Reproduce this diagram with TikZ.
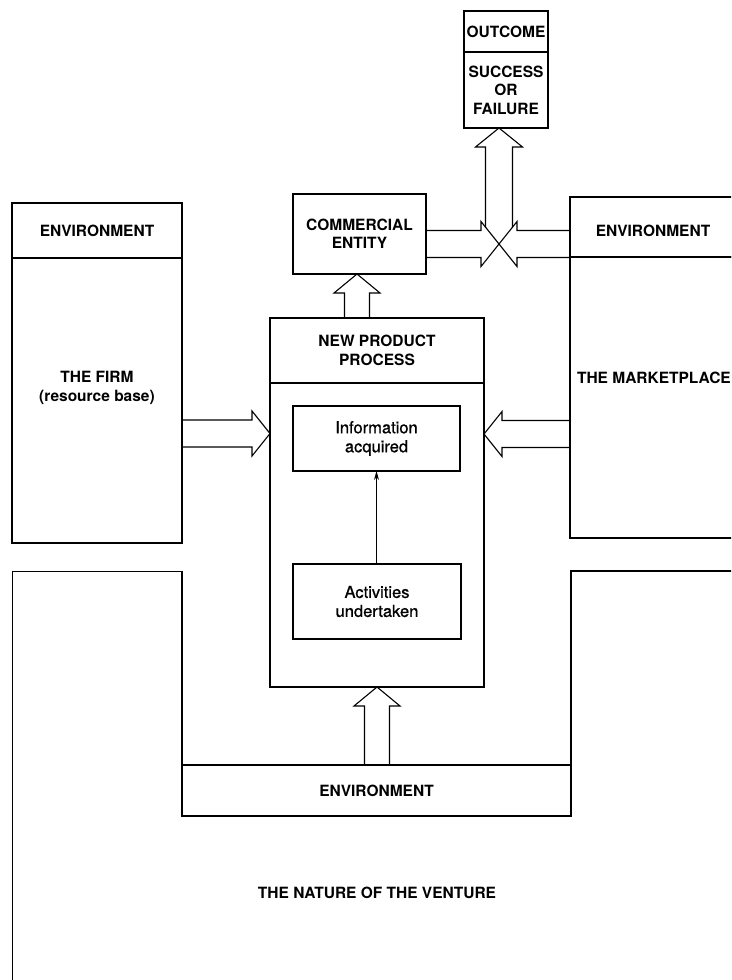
\documentclass[tikz,border=0pt]{standalone}
\usepackage{fontspec}
\setmainfont{TeX Gyre Heros}
\newfontfamily\medfont[FakeBold=0.9]{TeX Gyre Heros}
\usetikzlibrary{calc,arrows.meta}
\begin{document}
\begin{tikzpicture}[x=1pt,y=-1pt,
  line width=1.1pt, line join=miter,
  lbl/.style={font=\fontsize{15.5}{18.5}\selectfont\bfseries, align=center, inner sep=0pt},
  lowlbl/.style={font=\fontsize{16.5}{19}\selectfont\medfont, align=center, inner sep=0pt},
  box/.style={draw, rectangle, inner sep=0pt, outer sep=0pt, anchor=north west, lbl},
  % hollow block arrows: shaft from the start point, head ending at the target
  rarrow/.style={to path={let \p1=(\tikztostart),\p2=(\tikztotarget) in
    (\x1,\y1+13.5pt) -- (\x2-18pt,\y1+13.5pt) -- (\x2-18pt,\y1+22.5pt) -- (\x2,\y1)
    -- (\x2-18pt,\y1-22.5pt) -- (\x2-18pt,\y1-13.5pt) -- (\x1,\y1-13.5pt)}},
  larrow/.style={to path={let \p1=(\tikztostart),\p2=(\tikztotarget) in
    (\x1,\y1+13.5pt) -- (\x2+18pt,\y1+13.5pt) -- (\x2+18pt,\y1+22.5pt) -- (\x2,\y1)
    -- (\x2+18pt,\y1-22.5pt) -- (\x2+18pt,\y1-13.5pt) -- (\x1,\y1-13.5pt)}},
  uarrow/.style={to path={let \p1=(\tikztostart),\p2=(\tikztotarget) in
    (\x1-12.5pt,\y1) -- (\x1-12.5pt,\y2-19pt) -- (\x1-23pt,\y2-19pt) -- (\x1,\y2)
    -- (\x1+23pt,\y2-19pt) -- (\x1+12.5pt,\y2-19pt) -- (\x1+12.5pt,\y1)}}
]
\useasboundingbox (0,0) rectangle (731,980);
\clip (0,0) rectangle (731,980);

% outcome
\node[box, minimum width=84pt, minimum height=41pt] (outhead) at (464,11) {OUTCOME};
\node[box, minimum width=84pt, minimum height=76pt] (outbody) at (464,52) {SUCCESS\\OR\\FAILURE};

% commercial entity
\node[box, minimum width=133pt, minimum height=80pt] (ce) at (293,194) {COMMERCIAL\\ENTITY};

% the firm
\node[box, minimum width=170pt, minimum height=55pt] (fenv) at (12,203) {ENVIRONMENT};
\node[box, minimum width=170pt, minimum height=285pt] (firm) at (12,258) {};
\node[lbl] (firmtext) at (97,388) {THE FIRM\\(resource base)};

% the marketplace
\node[box, minimum width=175pt, minimum height=60pt] (menv) at (570,197) {};
\node[lbl] (menvtext) at (653,231) {ENVIRONMENT};
\node[box, minimum width=175pt, minimum height=281pt] (market) at (570,257) {};
\node[lbl, anchor=west] (markettext) at (576.5,378) {THE MARKETPLACE};

% new product process
\node[box, minimum width=214pt, minimum height=65pt] (npphead) at (270,318) {NEW PRODUCT\\PROCESS};
\node[box, minimum width=214pt, minimum height=304pt] (nppbody) at (270,383) {};
\node[box, lowlbl, minimum width=167pt, minimum height=65pt] (info) at (293,406) {Information\\acquired};
\node[box, lowlbl, minimum width=168pt, minimum height=75pt] (act) at (293,564) {Activities\\undertaken};
\draw[line width=0.8pt, -{Stealth[length=9pt,width=5pt]}] (act.north -| info.south) -- (info.south);

% environment below the process
\node[box, minimum width=389pt, minimum height=51pt] (envb) at (182,765) {ENVIRONMENT};

% the nature of the venture
\draw (12.5,990) |- (182,571.5) -- (envb.north west);
\draw (745,571) -| (envb.north east);
\node[lbl] (venture) at (377,893) {THE NATURE OF THE VENTURE};

% block arrows into the process
\coordinate (fb) at ($(firm.east)+(0,33)$);
\draw[rarrow] (fb) to (nppbody.west |- fb);
\coordinate (mb) at ($(market.west)+(0,36.5)$);
\draw[larrow] (mb) to (nppbody.east |- mb);
\coordinate (eb) at ($(envb.north)+(0.5,0)$);
\draw[uarrow] (eb) to (eb |- nppbody.south);
\coordinate (nb) at ($(npphead.north)+(-20,0)$);
\draw[uarrow] (nb) to (nb |- ce.south);

% crossing arrows and outcome arrow
\coordinate (xc) at ($(ce.east)+(73,10)$);
\draw[rarrow] (ce.east |- xc) to (xc);
\draw[larrow] (menv.west |- xc) to (xc);
\draw let \p1=(xc), \p2=(outbody.south) in
  (\x1-13.5pt,\y1+16.5pt) -- (\x1-13.5pt,\y2-19pt) -- (\x1-23.5pt,\y2-19pt) -- (\x1,\y2)
  -- (\x1+23.5pt,\y2-19pt) -- (\x1+13.5pt,\y2-19pt) -- (\x1+13.5pt,\y1+16.5pt);
\end{tikzpicture}
\end{document}
